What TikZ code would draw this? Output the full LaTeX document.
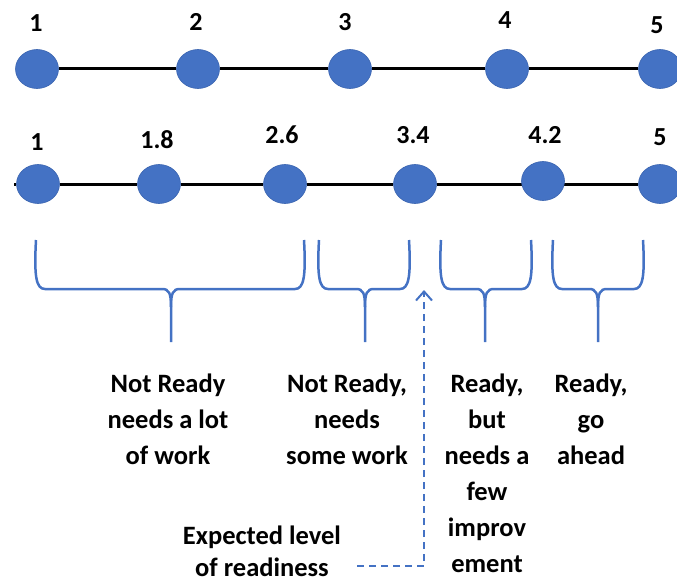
\documentclass[tikz,border=0pt]{standalone}
\usepackage{fontspec}
\setmainfont{Carlito}
\usetikzlibrary{arrows.meta,shapes.geometric}
\definecolor{bl}{HTML}{4472C4}
\definecolor{bld}{HTML}{3A64B0}
\newcommand\mybrace[3]{%
  \draw[bracestyle] (#1,240) .. controls ({#1-2},276) and ({#1},289) .. ({#1+9},289)
     -- ({#3-9},289) .. controls ({#3-2},289) and (#3,293) .. (#3,307) -- (#3,342);
  \draw[bracestyle] (#2,240) .. controls ({#2+2},276) and ({#2},289) .. ({#2-9},289)
     -- ({#3+9},289) .. controls ({#3+2},289) and (#3,293) .. (#3,307);
}
\begin{document}
\begin{tikzpicture}[x=1pt,y=-1pt,
  dot/.style={ellipse, fill=bl, draw=bld, line width=0.6pt, minimum width=43pt, minimum height=39pt, inner sep=0pt},
  num/.style={font=\bfseries\fontsize{26}{30}\selectfont, inner sep=0pt},
  lbl/.style={font=\bfseries\fontsize{26.5}{36}\selectfont, align=center, inner sep=0pt, anchor=north},
  axisline/.style={line width=3pt, black},
  bracestyle/.style={draw=bl, line width=2.5pt},
  dasharrow/.style={draw=bl, line width=2pt, dash pattern=on 7pt off 5pt, -{Straight Barb[length=9pt,width=16pt,line width=2pt]}}
]
\useasboundingbox (0,0) rectangle (677,583);

% top row
\node[dot] (a1) at (37,69) {};
\node[dot] (a2) at (198,69) {};
\node[dot] (a3) at (350,69) {};
\node[dot] (a4) at (507,69) {};
\node[dot] (a5) at (660,69) {};
\draw[axisline] (a1) -- (a2);
\draw[axisline] (a2) -- (a3);
\draw[axisline] (a3) -- (a4);
\draw[axisline] (a4) -- (a5);
\node[num] (ta1) at (36,23) {1};
\node[num] (ta2) at (196,22) {2};
\node[num] (ta3) at (345,22) {3};
\node[num] (ta4) at (505,20) {4};
\node[num] (ta5) at (657,25) {5};

% bottom row
\coordinate (bstart) at (14,184);
\node[dot] (b1) at (38,184) {};
\node[dot] (b2) at (159,184) {};
\node[dot] (b3) at (285,184) {};
\node[dot] (b4) at (415,184) {};
\node[dot] (b6) at (660,184) {};
\draw[axisline] (bstart) -- (b1);
\draw[axisline] (b1) -- (b2);
\draw[axisline] (b2) -- (b3);
\draw[axisline] (b3) -- (b4);
\draw[axisline] (b4) -- (b6);
\node[dot] (b5) at (543,181) {};
\node[num] (tb1) at (37,142) {1};
\node[num] (tb2) at (157,140) {1.8};
\node[num] (tb3) at (282,135) {2.6};
\node[num] (tb4) at (413,135) {3.4};
\node[num] (tb5) at (545,135) {4.2};
\node[num] (tb6) at (660,137) {5};

% braces
\mybrace{36}{304}{171}
\mybrace{319}{409}{365}
\mybrace{441}{531}{485}
\mybrace{553}{643}{598}

% texts
\node[lbl] (l1) at (168,374) {Not Ready\\needs a lot\\of work};
\node[lbl] (l2) at (347,374) {Not Ready,\\needs\\some work};
\node[lbl] (l3) at (487,374) {Ready,\\but\\needs a\\few\\improv\\ement};
\node[lbl] (l4) at (591,374) {Ready,\\go\\ahead};
\node[lbl, font=\bfseries\fontsize{26.5}{32}\selectfont] (exp) at (262,526) {Expected level\\of readiness};

% dashed arrow
\coordinate (dstart) at (357,566);
\coordinate (tip) at (424,290);
\draw[dasharrow] (dstart) -| (tip);
\end{tikzpicture}
\end{document}
